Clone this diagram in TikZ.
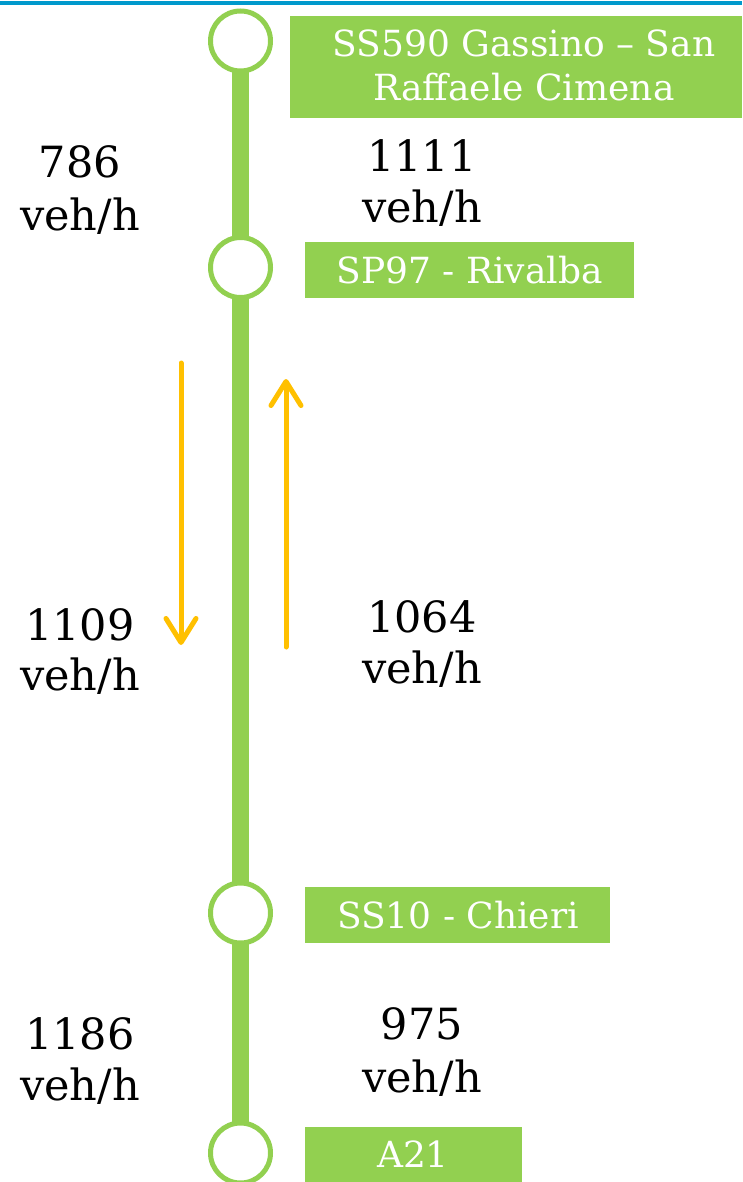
\documentclass[tikz,border=0pt]{standalone}
\usepackage{fontspec}
\setmainfont{DejaVu Serif}
\usetikzlibrary{arrows.meta}
\definecolor{lgreen}{RGB}{146,208,80}
\definecolor{ambr}{RGB}{255,192,0}
\definecolor{topblue}{RGB}{0,153,204}
\tikzset{
  stopring/.style={circle,draw=lgreen,line width=5pt,fill=white,minimum size=60pt,inner sep=0pt},
  namebox/.style={fill=lgreen,draw=none},
  nametext/.style={text=white,font=\fontsize{36}{44}\selectfont,inner sep=0pt,anchor=base},
  flowtext/.style={text=black,font=\fontsize{43}{52}\selectfont,inner sep=0pt,anchor=base},
  flowarrow/.style={draw=ambr,line width=5pt,line cap=round,-{Straight Barb[length=24pt,width=30pt,round]}}
}
\begin{document}
\begin{tikzpicture}[x=1pt,y=-1pt]
\useasboundingbox (0,0) rectangle (742,1182);
\fill[white] (0,0) rectangle (742,1182);
% top blue rule
\draw[topblue,line width=4pt] (0,3.5) -- (742,3.5);
% main road
\coordinate (top) at (240.5,41);
\coordinate (bot) at (240.5,1153);
\draw[lgreen,line width=17pt] (top) -- (bot);
% stops
\node[stopring] (s1) at (240.5,41) {};
\node[stopring] (s2) at (240.5,267.5) {};
\node[stopring] (s3) at (240.5,913) {};
\node[stopring] (s4) at (240.5,1153) {};
% name boxes
\fill[namebox] (290,16) rectangle (742,118);
\node[nametext] (n1a) at (524,57) {SS590 Gassino – San};
\node[nametext] (n1b) at (524,101) {Raffaele Cimena};
\fill[namebox] (305,242) rectangle (634,298);
\node[nametext] (n2) at (469.5,283) {SP97 - Rivalba};
\fill[namebox] (305,887) rectangle (610,943);
\node[nametext] (n3) at (458,928) {SS10 - Chieri};
\fill[namebox] (305,1127) rectangle (522,1183);
\node[nametext] (n4) at (413,1167) {A21};
% flows
\node[flowtext] (f1a) at (80,178) {786};
\node[flowtext] (f1b) at (80,230) {veh/h};
\node[flowtext] (f2a) at (422,172) {1111};
\node[flowtext] (f2b) at (422,223) {veh/h};
\node[flowtext] (f3a) at (80,640) {1109};
\node[flowtext] (f3b) at (80,690) {veh/h};
\node[flowtext] (f4a) at (422,632) {1064};
\node[flowtext] (f4b) at (422,683) {veh/h};
\node[flowtext] (f5a) at (80,1049) {1186};
\node[flowtext] (f5b) at (80,1100) {veh/h};
\node[flowtext] (f6a) at (422,1039) {975};
\node[flowtext] (f6b) at (422,1092) {veh/h};
% direction arrows
\coordinate (d1) at (181,363);
\coordinate (d2) at (181,645);
\coordinate (u1) at (286,647);
\coordinate (u2) at (286,379);
\draw[flowarrow] (d1) -- (d2);
\draw[flowarrow] (u1) -- (u2);
\end{tikzpicture}
\end{document}
